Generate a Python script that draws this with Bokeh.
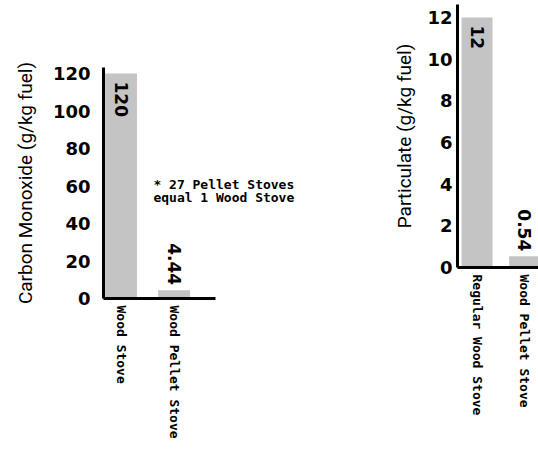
import math
from bokeh.plotting import figure
from bokeh.layouts import row, column
from bokeh.models import Range1d, FixedTicker, Label, Spacer
from bokeh.core.properties import value
from bokeh.embed import file_html
from bokeh.resources import INLINE

# ---- data ----
co_categories = ["Wood Stove", "Wood Pellet Stove"]
co_values = [120, 4.44]
co_value_labels = ["120", "4.44"]
co_ticks = [0, 20, 40, 60, 80, 100, 120]
co_axis_title = "Carbon Monoxide (g/kg fuel)"

pm_categories = ["Regular Wood Stove", "Wood Pellet Stove"]
pm_values = [12, 0.54]
pm_value_labels = ["12", "0.54"]
pm_ticks = [0, 2, 4, 6, 8, 10, 12]
pm_axis_title = "Particulate (g/kg fuel)"

note_lines = ["* 27 Pellet Stoves", "equal 1 Wood Stove"]

BAR_COLOR = "#c4c4c4"
TOP, BOTTOM = 4, 154


def make_chart(categories, values, value_labels, ticks, axis_title, width, height,
               left_border, x_range, x_bounds, y_range,
               bar_width, label_standoff, title_standoff):
    p = figure(width=width, height=height, output_backend="svg", toolbar_location=None,
               x_range=Range1d(*x_range), y_range=Range1d(*y_range),
               min_border_left=left_border, min_border_right=0,
               min_border_top=TOP, min_border_bottom=BOTTOM)
    p.outline_line_color = None
    p.xgrid.grid_line_color = None
    p.ygrid.grid_line_color = None
    p.background_fill_color = "white"
    p.border_fill_color = "white"

    xs = list(range(len(categories)))
    p.vbar(x=xs, top=values, bottom=0, width=bar_width, fill_color=BAR_COLOR,
           line_color=None)

    vmax = max(values)
    for x, v, lab in zip(xs, values, value_labels):
        inside = v > 0.5 * vmax
        p.text(x=[x], y=[v], text=[lab], angle=-math.pi / 2,
               text_align="left" if inside else "right", text_baseline="middle",
               y_offset=8 if inside else -5,
               text_font=value("DejaVu Sans"), text_font_style="bold",
               text_font_size="17px", text_color="black")

    # y axis
    ya = p.yaxis[0]
    ya.ticker = FixedTicker(ticks=ticks)
    ya.axis_line_width = 3
    ya.axis_line_color = "black"
    ya.major_tick_line_color = None
    ya.minor_tick_line_color = None
    ya.major_tick_out = 0
    ya.major_tick_in = 0
    ya.major_label_standoff = label_standoff
    ya.major_label_text_font = "DejaVu Sans"
    ya.major_label_text_font_style = "bold"
    ya.major_label_text_font_size = "18px"
    ya.major_label_text_color = "black"
    ya.axis_label = axis_title
    ya.axis_label_standoff = title_standoff
    ya.axis_label_text_font = "Roboto"
    ya.axis_label_text_font_style = "normal"
    ya.axis_label_text_font_size = "19px"
    ya.axis_label_text_color = "black"

    # x axis
    xa = p.xaxis[0]
    xa.ticker = FixedTicker(ticks=xs)
    xa.bounds = x_bounds
    xa.major_label_overrides = {x: c for x, c in zip(xs, categories)}
    xa.major_label_orientation = -math.pi / 2
    xa.axis_line_width = 3
    xa.axis_line_color = "black"
    xa.major_tick_line_color = None
    xa.minor_tick_line_color = None
    xa.major_tick_out = 0
    xa.major_tick_in = 0
    xa.major_label_standoff = 7
    xa.major_label_text_font = "DejaVu Sans Mono"
    xa.major_label_text_font_style = "bold"
    xa.major_label_text_font_size = "13px"
    xa.major_label_text_color = "black"
    return p


left = make_chart(co_categories, co_values, co_value_labels, co_ticks, co_axis_title,
                  width=370, height=389, left_border=103,
                  x_range=(-0.33, 4.70), x_bounds=(-0.33, 1.78),
                  y_range=(0, 123.2), bar_width=0.6,
                  label_standoff=13, title_standoff=13)

for i, line in enumerate(note_lines):
    left.add_layout(Label(x=0.61, y=60.8 - 6.9 * i, text=line, text_align="left",
                          text_baseline="middle", text_font="DejaVu Sans Mono",
                          text_font_style="bold", text_font_size="13px",
                          text_color="black"))

right = make_chart(pm_categories, pm_values, pm_value_labels, pm_ticks, pm_axis_title,
                   width=168, height=421, left_border=87,
                   x_range=(-0.41, 1.29), x_bounds="auto",
                   y_range=(0, 12.62), bar_width=0.65,
                   label_standoff=5, title_standoff=8)

layout = row(column(Spacer(width=370, height=63), left, spacing=0), right, spacing=0)

open("out.html", "w").write(file_html(layout, INLINE))
